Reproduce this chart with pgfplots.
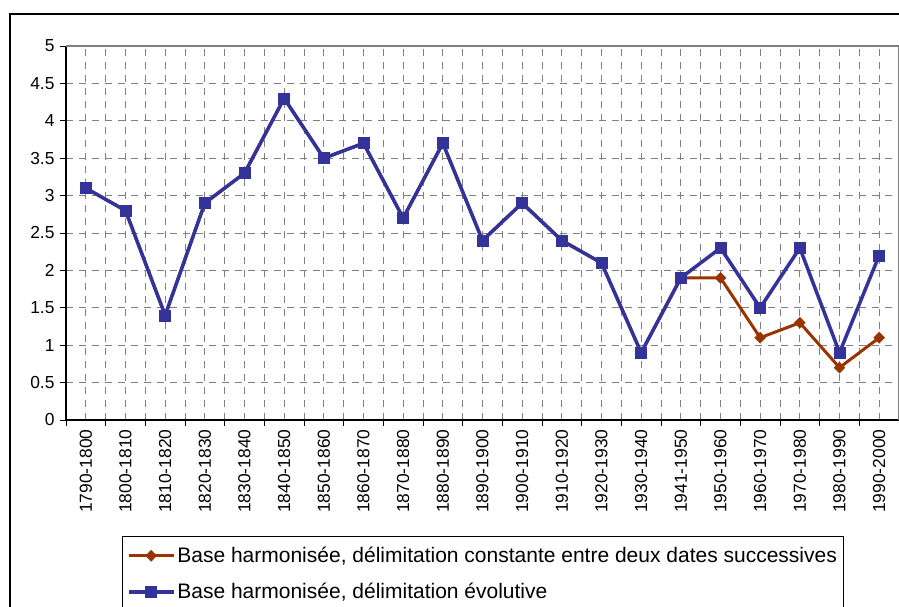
\documentclass[border=0pt]{standalone}
\usepackage{pgfplots}
\pgfplotsset{compat=1.18}
\usepackage{fontspec}
\setmainfont{Liberation Sans}
\definecolor{blueS}{HTML}{333399}
\definecolor{redS}{HTML}{993300}
\begin{document}
\begin{tikzpicture}[x=1pt,y=1pt]
\useasboundingbox (0,0) rectangle (899,606);
\draw[black, line width=1.5pt] (10,-20) -- (10,592) -- (930,592);
\begin{axis}[
  at={(66pt,186pt)}, anchor=south west,
  scale only axis, width=833pt, height=374pt,
  xmin=-0.5, xmax=20.5, ymin=0, ymax=5,
  axis lines=left,
  axis line style={-, black, line width=1.3pt},
  xtick={-0.5,0.5,1.5,2.5,3.5,4.5,5.5,6.5,7.5,8.5,9.5,10.5,11.5,12.5,13.5,14.5,15.5,16.5,17.5,18.5,19.5,20.5},
  x tick label as interval,
  xticklabels={1790-1800,1800-1810,1810-1820,1820-1830,1830-1840,1840-1850,1850-1860,1860-1870,1870-1880,1880-1890,1890-1900,1900-1910,1910-1920,1920-1930,1930-1940,1941-1950,1950-1960,1960-1970,1970-1980,1980-1990,1990-2000},
  minor xtick={0,1,...,20},
  ytick={0,0.5,1,1.5,2,2.5,3,3.5,4,4.5,5},
  yticklabels={0,0.5,1,1.5,2,2.5,3,3.5,4,4.5,5},
  tick align=outside,
  major tick length=6pt, minor tick length=0pt,
  tick style={black, line width=1pt},
  xmajorgrids, xminorgrids, ymajorgrids,
  major grid style={gray, line width=0.9pt, dash pattern=on 7pt off 6pt},
  minor grid style={gray, line width=0.9pt, dash pattern=on 7pt off 6pt},
  /pgf/number format/assume math mode=true,
  ticklabel style={font=\fontsize{17.4}{20}\selectfont},
  yticklabel style={xshift=-2pt},
  xticklabel style={rotate=90, anchor=east},
  clip=false,
  legend style={at={(0.0672,-0.310)}, anchor=north west, draw=black, line width=0.8pt,
    font=\fontsize{21}{24}\selectfont, inner xsep=4.5pt, inner ysep=9pt, row sep=15pt,
    nodes={inner sep=2pt}},
  legend cell align=left,
  legend image code/.code={\draw[mark repeat=2, mark phase=2, #1] plot coordinates {(0pt,0pt) (22.5pt,0pt) (45pt,0pt)};},
]
\draw[gray, line width=1.3pt] (rel axis cs:0,1) -- (rel axis cs:1,1) -- (rel axis cs:1,0);
\addplot[redS, line width=3pt, mark=diamond*, mark size=5.5pt, mark options={solid, fill=redS, line width=0.5pt, xscale=1.3}] coordinates {
(0,3.1) (1,2.8) (2,1.4) (3,2.9) (4,3.3) (5,4.3) (6,3.5) (7,3.7) (8,2.7) (9,3.7) (10,2.4)
(11,2.9) (12,2.4) (13,2.1) (14,0.9) (15,1.9) (16,1.9) (17,1.1) (18,1.3) (19,0.7) (20,1.1)};
\addlegendentry{Base harmonisée, délimitation constante entre deux dates successives}
\addplot[blueS, line width=3.5pt, mark=square*, mark size=5.5pt, mark options={solid, fill=blueS, line width=0.5pt}] coordinates {
(0,3.1) (1,2.8) (2,1.4) (3,2.9) (4,3.3) (5,4.3) (6,3.5) (7,3.7) (8,2.7) (9,3.7) (10,2.4)
(11,2.9) (12,2.4) (13,2.1) (14,0.9) (15,1.9) (16,2.3) (17,1.5) (18,2.3) (19,0.9) (20,2.2)};
\addlegendentry{Base harmonisée, délimitation évolutive}
\end{axis}
\end{tikzpicture}
\end{document}
